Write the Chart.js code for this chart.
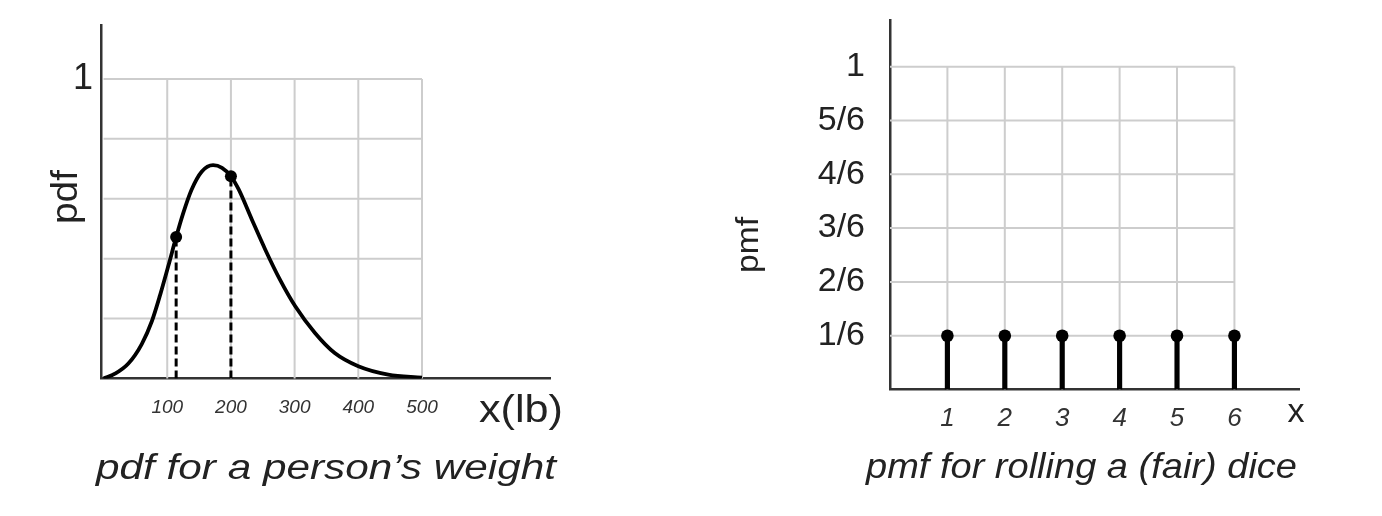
<!DOCTYPE html>
<html>
<head>
<meta charset="utf-8">
<script src="https://cdn.jsdelivr.net/npm/chart.js@4.4.1/dist/chart.umd.min.js"></script>
<style>
html,body{margin:0;padding:0;background:#fff;width:1382px;height:516px;overflow:hidden}
#w1{position:absolute;left:0;top:0;width:640px;height:516px}
#w2{position:absolute;left:690px;top:0;width:692px;height:516px}
</style>
</head>
<body>
<div id="w1"><canvas id="c1" width="640" height="516"></canvas></div>
<div id="w2"><canvas id="c2" width="692" height="516"></canvas></div>
<script>
// ---------- data: pdf of a person's weight ----------
const weightX   = [0, 18, 39, 60, 76, 89, 102, 114, 125, 138, 154, 172, 186, 200, 212, 233, 254, 277, 301, 332, 363, 400, 447, 500];
const weightPdf = [0, 0.016, 0.05, 0.115, 0.192, 0.28, 0.378, 0.472, 0.551, 0.629, 0.69, 0.712, 0.703, 0.675, 0.632, 0.53, 0.43, 0.33, 0.241, 0.152, 0.085, 0.041, 0.013, 0.003];
const markedWeights = [114, 200];
const markedPdf     = [0.472, 0.675];
const weightTicks   = [100, 200, 300, 400, 500];
const pdfGridLevels = [0.2, 0.4, 0.6, 0.8, 1];
const pdfTickValues = [1];
const pdfTickLabels = ['1'];

// ---------- data: pmf of a fair dice ----------
const diceFaces = [1, 2, 3, 4, 5, 6];
const diceProb  = [1/6, 1/6, 1/6, 1/6, 1/6, 1/6];
const pmfTickValues = [1/6, 2/6, 3/6, 4/6, 5/6, 1];
const pmfTickLabels = ['1/6', '2/6', '3/6', '4/6', '5/6', '1'];

const FONT = '"Liberation Sans", Arial, Helvetica, sans-serif';
const INK = '#222';

// partial grid drawn through the chart's scales
const partialGrid = {
  id: 'partialGrid',
  beforeDatasetsDraw(chart, args, o) {
    const {ctx, scales: {x, y}} = chart;
    ctx.save();
    ctx.strokeStyle = o.color;
    ctx.lineWidth = o.width;
    const yb = y.getPixelForValue(o.yFrom), yt = y.getPixelForValue(o.yTo);
    const xl = x.getPixelForValue(o.xFrom), xr = x.getPixelForValue(o.xTo);
    o.xs.forEach(v => { const p = x.getPixelForValue(v); ctx.beginPath(); ctx.moveTo(p, yb); ctx.lineTo(p, yt); ctx.stroke(); });
    o.ys.forEach(v => { const p = y.getPixelForValue(v); ctx.beginPath(); ctx.moveTo(xl, p); ctx.lineTo(xr, p); ctx.stroke(); });
    ctx.restore();
  }
};

// free texts (axis names and captions)
const texts = {
  id: 'texts',
  afterDraw(chart, args, o) {
    const ctx = chart.ctx;
    o.items.forEach(t => {
      ctx.save();
      ctx.font = t.font;
      ctx.fillStyle = INK;
      ctx.textAlign = 'center';
      ctx.textBaseline = 'alphabetic';
      ctx.translate(t.x, t.y);
      if (t.rot) ctx.rotate(t.rot);
      if (t.w) { const m = ctx.measureText(t.text).width; ctx.scale(t.w / m, 1); }
      ctx.fillText(t.text, 0, 0);
      ctx.restore();
    });
  }
};

const fixedTicks = (vals) => (scale) => { scale.ticks = vals.map(v => ({value: v})); };
const fitY = (w) => (s) => { s.width = w; s.paddingTop = 0; s.paddingBottom = 0; };
const fitX = (h) => (s) => { s.height = h; s.paddingLeft = 0; s.paddingRight = 0; };

// ---------- left chart ----------
new Chart(document.getElementById('c1'), {
  type: 'scatter',
  data: {
    datasets: [
      {
        type: 'scatter',
        data: markedWeights.map((w, i) => ({x: w, y: markedPdf[i]})),
        pointRadius: 6, pointHoverRadius: 6,
        pointBackgroundColor: '#000', pointBorderColor: '#000', pointBorderWidth: 0
      },
      {
        type: 'line',
        data: weightX.map((w, i) => ({x: w, y: weightPdf[i]})),
        borderColor: '#000', borderWidth: 3.8, pointRadius: 0,
        cubicInterpolationMode: 'monotone', fill: false
      },
      ...markedWeights.map((w, i) => ({
        type: 'line',
        data: [{x: w, y: 0}, {x: w, y: markedPdf[i]}],
        borderColor: '#000', borderWidth: 3, borderDash: [8, 4],
        pointRadius: 0, fill: false
      }))
    ]
  },
  options: {
    responsive: false, animation: false,
    layout: {padding: {top: 25, left: 0, right: 90, bottom: 0}},
    plugins: {
      legend: {display: false}, tooltip: {enabled: false},
      partialGrid: {xs: weightTicks, ys: pdfGridLevels, xFrom: 0, xTo: 500, yFrom: 0, yTo: 1, color: '#cdcdcd', width: 2},
      texts: {items: [
        {text: 'pdf', x: 77, y: 197, rot: -Math.PI / 2, font: `36px ${FONT}`, w: 54},
        {text: 'x(lb)', x: 521, y: 422, font: `38px ${FONT}`, w: 84},
        {text: 'pdf for a person’s weight', x: 326, y: 479, font: `italic 35px ${FONT}`, w: 460}
      ]}
    },
    scales: {
      x: {
        type: 'linear', min: -4, max: 701, offset: false,
        afterBuildTicks: fixedTicks(weightTicks),
        afterFit: fitX(137.5),
        grid: {display: false, drawTicks: false},
        border: {display: true, color: '#333', width: 2.5},
        ticks: {font: {family: FONT, size: 19, style: 'italic'}, color: '#333', padding: 18, maxRotation: 0, autoSkip: false}
      },
      y: {
        type: 'linear', min: 0, max: 1.18,
        afterBuildTicks: fixedTicks(pdfTickValues),
        afterFit: fitY(101),
        grid: {display: false, drawTicks: false},
        border: {display: true, color: '#333', width: 2.5},
        ticks: {font: {family: FONT, size: 36}, color: INK, padding: 8,
          callback: (v) => { const i = pdfTickValues.findIndex(t => Math.abs(t - v) < 1e-9); return i >= 0 ? pdfTickLabels[i] : ''; }}
      }
    }
  },
  plugins: [partialGrid, texts]
});

// ---------- right chart ----------
new Chart(document.getElementById('c2'), {
  type: 'scatter',
  data: {
    datasets: [
      {
        type: 'scatter',
        data: diceFaces.map((f, i) => ({x: f, y: diceProb[i]})),
        pointRadius: 6.3, pointHoverRadius: 6.3,
        pointBackgroundColor: '#000', pointBorderColor: '#000', pointBorderWidth: 0
      },
      {
        type: 'bar',
        data: diceFaces.map((f, i) => ({x: f, y: diceProb[i]})),
        backgroundColor: '#000', borderWidth: 0, barThickness: 4.5
      }
    ]
  },
  options: {
    responsive: false, animation: false,
    layout: {padding: {top: 20, left: 0, right: 83, bottom: 0}},
    plugins: {
      legend: {display: false}, tooltip: {enabled: false},
      partialGrid: {xs: diceFaces, ys: pmfTickValues, xFrom: 0, xTo: 6, yFrom: 0, yTo: 1, color: '#cdcdcd', width: 2},
      texts: {items: [
        {text: 'pmf', x: 758 - 690, y: 245, rot: -Math.PI / 2, font: `31px ${FONT}`, w: 56},
        {text: 'x', x: 1296 - 690, y: 422, font: `34px ${FONT}`},
        {text: 'pmf for rolling a (fair) dice', x: 1081.5 - 690, y: 478, font: `italic 35px ${FONT}`, w: 431}
      ]}
    },
    scales: {
      x: {
        type: 'linear', min: 0, max: 7.125, offset: false,
        afterBuildTicks: fixedTicks(diceFaces),
        afterFit: fitX(126.5),
        grid: {display: false, drawTicks: false, offset: false},
        border: {display: true, color: '#333', width: 2.5},
        ticks: {font: {family: FONT, size: 26, style: 'italic'}, color: '#333', padding: 14, maxRotation: 0, autoSkip: false}
      },
      y: {
        type: 'linear', min: 0, max: 1.1447,
        afterBuildTicks: fixedTicks(pmfTickValues),
        afterFit: fitY(200),
        grid: {display: false, drawTicks: false},
        border: {display: true, color: '#333', width: 2.5},
        ticks: {font: {family: FONT, size: 34}, color: INK, padding: 25,
          callback: (v) => { const i = pmfTickValues.findIndex(t => Math.abs(t - v) < 1e-9); return i >= 0 ? pmfTickLabels[i] : ''; }}
      }
    }
  },
  plugins: [partialGrid, texts]
});
</script>
</body>
</html>
